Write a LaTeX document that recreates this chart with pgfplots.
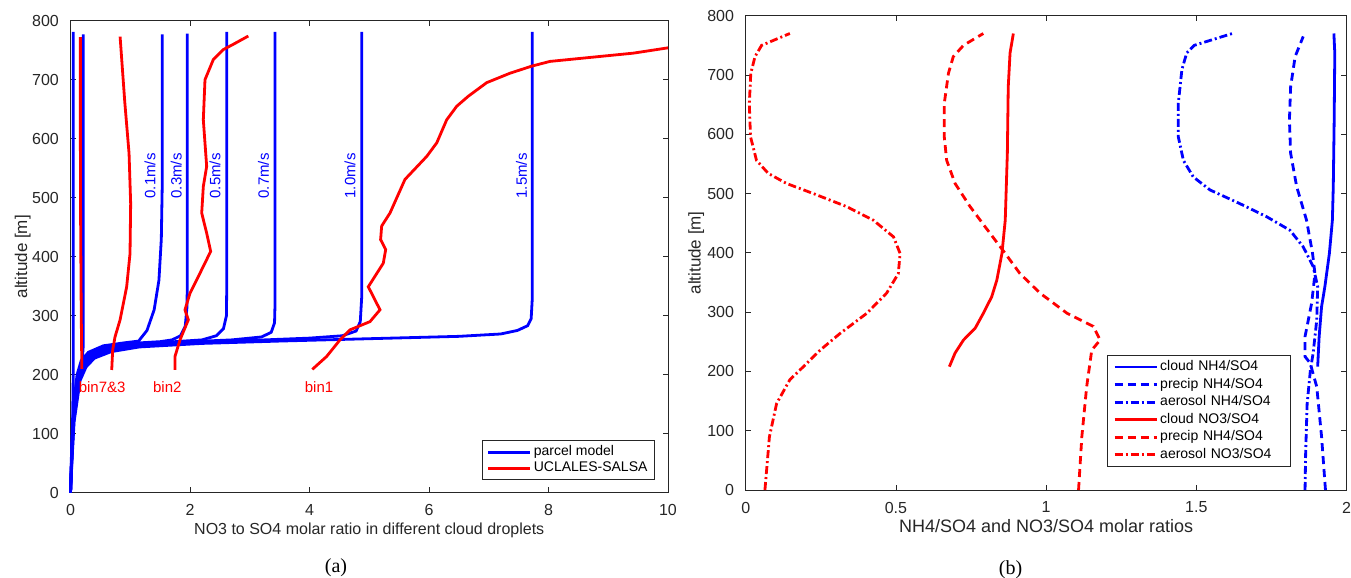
\documentclass[border=0pt]{standalone}
\usepackage{fontspec}
\setmainfont{Liberation Sans}
\newfontfamily\capfont{Liberation Serif}
\usepackage{pgfplots}
\pgfplotsset{compat=1.18}
\definecolor{axisgray}{RGB}{38,38,38}
\definecolor{mblue}{RGB}{0,0,255}
\definecolor{mred}{RGB}{255,0,0}

\pgfplotsset{
  matstyle/.style={
    scale only axis,
    axis line style={draw=axisgray, line width=0.4pt},
    tick style={draw=axisgray, line width=0.4pt},
    tick align=inside,
    major tick length=2.6pt,
    ymin=0, ymax=800, ytick={0,100,200,300,400,500,600,700,800},
    tick label style={font=\fontsize{8}{9.6}\selectfont, text=axisgray},
    /pgf/number format/assume math mode=true,
    xticklabel style={yshift=-2.4pt},
    yticklabel style={xshift=-2.3pt},
    legend cell align=left,
    legend image code/.code={%
      \draw[#1, line width=1.4pt] (0pt,0pt) -- (21pt,0pt);
      \draw[#1, line width=1.4pt] (0pt,0pt) -- (21pt,0pt);},
    every axis plot/.append style={line width=1.4pt},
  },
  dashm/.style={dash pattern=on 4pt off 2.5pt},
  dashdotm/.style={dash pattern=on 4pt off 1.5pt on 1pt off 1.5pt},
}

\begin{document}
\begin{tikzpicture}
\useasboundingbox (0,0) rectangle (675.5pt,289pt);

% ---------- (a) ----------
\begin{axis}[
  matstyle,
  at={(35.25pt,42.65pt)}, anchor=south west,
  width=298.75pt, height=236pt,
  xmin=0, xmax=10, xtick={0,2,4,6,8,10},
  clip=false,
  xlabel={NO3 to SO4 molar ratio in different cloud droplets},
  xlabel style={at={(axis description cs:0.5,-0.0896)}, anchor=base, font=\fontsize{8}{9.6}\selectfont, text=axisgray},
  ylabel={altitude [m]},
  ylabel style={at={(axis description cs:-0.0725,0.5)}, anchor=base, font=\fontsize{8.5}{10}\selectfont, text=axisgray},
  legend style={at={(axis description cs:0.978,0.027)}, anchor=south east,
    font=\fontsize{7}{8}\selectfont, draw=axisgray, thin,
    inner xsep=2.5pt, inner ysep=1.5pt, row sep=-0.6pt, nodes={inner sep=1pt, text=black}},
]
% parcel model
\addplot[mblue] coordinates {(0,0)(0.02,60)(0.035,120)(0.044,180)(0.047,230)(0.047,781)};
\addlegendentry{parcel model}
\addplot[mblue, forget plot] coordinates {(0,0)(0.02,60)(0.05,120)(0.1,170)(0.16,205)(0.2,228)(0.214,250)(0.214,777)};
\addplot[mblue, forget plot] coordinates {(0,0)(0.015,60)(0.035,120)(0.07,165)(0.11,200)(0.18,224)(0.3,238)(0.55,249)(0.9,254)(1.14,257)(1.28,275)(1.4,310)(1.48,360)(1.52,430)(1.535,520)(1.537,777)};
\addplot[mblue, forget plot] coordinates {(0,0)(0.018,60)(0.04,120)(0.075,163)(0.12,198)(0.2,222)(0.32,236)(0.58,247)(1.0,253)(1.5,256)(1.7,259)(1.84,266)(1.92,282)(1.95,315)(1.955,360)(1.955,778)};
\addplot[mblue, forget plot] coordinates {(0,0)(0.02,60)(0.045,120)(0.085,161)(0.13,196)(0.21,220)(0.34,234)(0.6,245)(1.0,251)(1.6,255)(2.2,259)(2.44,266)(2.56,278)(2.61,300)(2.614,340)(2.614,781)};
\addplot[mblue, forget plot] coordinates {(0,0)(0.022,60)(0.05,120)(0.09,159)(0.14,194)(0.22,218)(0.36,232)(0.62,243)(1.05,250)(1.8,255)(2.7,259)(3.2,264)(3.36,272)(3.415,288)(3.423,320)(3.423,781)};
\addplot[mblue, forget plot] coordinates {(0,0)(0.025,60)(0.055,120)(0.1,157)(0.15,192)(0.24,216)(0.38,230)(0.65,241)(1.1,249)(2.0,254)(3.0,258)(4.0,262)(4.55,266)(4.78,274)(4.85,290)(4.873,330)(4.873,781)};
\addplot[mblue, forget plot] coordinates {(0,0)(0.028,60)(0.06,120)(0.11,155)(0.16,190)(0.26,213)(0.4,228)(0.68,239)(1.15,247)(2.2,253)(3.5,257)(5.0,261)(6.5,265)(7.2,269)(7.48,275)(7.65,283)(7.71,295)(7.729,330)(7.729,781)};
% UCLALES-SALSA
\addplot[mred] coordinates {(4.047,209)(4.288,231)(4.51,259)(4.678,276)(5.013,290)(5.18,310)(4.984,349)(5.235,389)(5.275,412)(5.19,429)(5.208,452)(5.347,474)(5.598,531)(5.962,570)(6.13,593)(6.296,632)(6.464,655)(6.658,672)(6.966,695)(7.356,711)(7.72,723)(8.025,731)(9.42,745)(10.0,754)};
\addlegendentry{UCLALES-SALSA}
\addplot[mred, forget plot] coordinates {(0.19,210)(0.18,300)(0.17,450)(0.165,600)(0.165,772)};
\addplot[mred, forget plot] coordinates {(0.69,208)(0.706,242)(0.745,264)(0.83,293)(0.94,349)(0.996,405)(1.007,490)(0.98,575)(0.91,660)(0.83,773)};
\addplot[mred, forget plot] coordinates {(1.749,208)(1.749,231)(1.833,259)(1.972,293)(1.916,310)(2.0,338)(2.167,372)(2.346,409)(2.279,440)(2.196,474)(2.223,519)(2.279,553)(2.223,632)(2.251,700)(2.39,734)(2.557,751)(2.725,760)(2.976,774)};

\begin{scope}[every node/.style={rotate=90, text=mblue, font=\fontsize{7.5}{9}\selectfont}]
\node at (axis cs:1.33,537) {0.1m/s};
\node at (axis cs:1.77,537) {0.3m/s};
\node at (axis cs:2.42,537) {0.5m/s};
\node at (axis cs:3.23,537) {0.7m/s};
\node at (axis cs:4.68,537) {1.0m/s};
\node at (axis cs:7.55,537) {1.5m/s};
\end{scope}
\begin{scope}[every node/.style={text=mred, font=\fontsize{7.5}{9}\selectfont}]
\node at (axis cs:0.53,179) {bin7\&3};
\node at (axis cs:1.62,179) {bin2};
\node at (axis cs:4.16,179) {bin1};
\end{scope}
\end{axis}

% ---------- (b) ----------
\begin{axis}[
  matstyle,
  at={(372.85pt,44pt)}, anchor=south west,
  width=300.4pt, height=237.15pt,
  xmin=0, xmax=2, xtick={0,0.5,1,1.5,2},
  clip=false,
  xlabel={NH4/SO4 and NO3/SO4 molar ratios},
  xlabel style={at={(axis description cs:0.5,-0.0886)}, anchor=base, font=\fontsize{9}{10.8}\selectfont, text=axisgray},
  ylabel={altitude [m]},
  ylabel style={at={(axis description cs:-0.0749,0.5)}, anchor=base, font=\fontsize{8.5}{10}\selectfont, text=axisgray},
  legend style={at={(axis description cs:0.907,0.049)}, anchor=south east,
    font=\fontsize{7}{8}\selectfont, draw=axisgray, thin,
    inner xsep=3pt, inner ysep=1.5pt, row sep=0.2pt, nodes={inner sep=1pt, text=black},
    /tikz/column 2/.style={nodes={text width=61pt, align=left}}},
]
\addplot[mblue] coordinates {(1.904,208)(1.909,259)(1.917,309)(1.928,343)(1.943,399)(1.953,455)(1.956,512)(1.959,624)(1.961,737)(1.958,770)};
\addlegendentry{cloud NH4/SO4}
\addplot[mblue, dashm] coordinates {(1.93,0)(1.917,90)(1.901,174)(1.879,214)(1.862,225)(1.862,259)(1.884,315)(1.895,365)(1.887,399)(1.867,455)(1.834,512)(1.814,568)(1.81,624)(1.814,680)(1.829,731)(1.856,765)};
\addlegendentry{precip NH4/SO4}
\addplot[mblue, dashdotm] coordinates {(1.862,0)(1.864,62)(1.869,146)(1.88,203)(1.889,231)(1.901,287)(1.904,343)(1.889,377)(1.856,410)(1.812,438)(1.734,461)(1.645,483)(1.546,506)(1.49,528)(1.457,556)(1.44,596)(1.44,652)(1.452,709)(1.468,737)(1.493,750)(1.62,770)};
\addlegendentry{aerosol NH4/SO4}
\addplot[mred] coordinates {(0.678,208)(0.697,231)(0.725,253)(0.764,273)(0.791,298)(0.819,326)(0.836,354)(0.853,399)(0.864,455)(0.871,568)(0.874,680)(0.88,737)(0.891,770)};
\addlegendentry{cloud NO3/SO4}
\addplot[mred, dashm] coordinates {(1.108,0)(1.119,90)(1.135,174)(1.152,236)(1.18,253)(1.157,276)(1.07,298)(0.98,332)(0.913,365)(0.864,399)(0.797,444)(0.747,478)(0.697,517)(0.669,556)(0.661,596)(0.661,652)(0.675,703)(0.691,731)(0.725,750)(0.791,770)};
\addlegendentry{precip NH4/SO4}
\addplot[mred, dashdotm] coordinates {(0.064,0)(0.079,90)(0.103,146)(0.147,186)(0.192,208)(0.248,236)(0.314,264)(0.403,298)(0.469,332)(0.508,365)(0.514,399)(0.492,427)(0.425,455)(0.336,478)(0.225,500)(0.136,517)(0.075,534)(0.036,556)(0.016,596)(0.012,652)(0.017,703)(0.031,731)(0.053,750)(0.147,770)};
\addlegendentry{aerosol NO3/SO4}
\end{axis}

\node[font=\capfont\fontsize{10}{12}\selectfont] at (168pt,5pt) {(a)};
\node[font=\capfont\fontsize{10}{12}\selectfont] at (505.25pt,4.25pt) {(b)};
\end{tikzpicture}
\end{document}
